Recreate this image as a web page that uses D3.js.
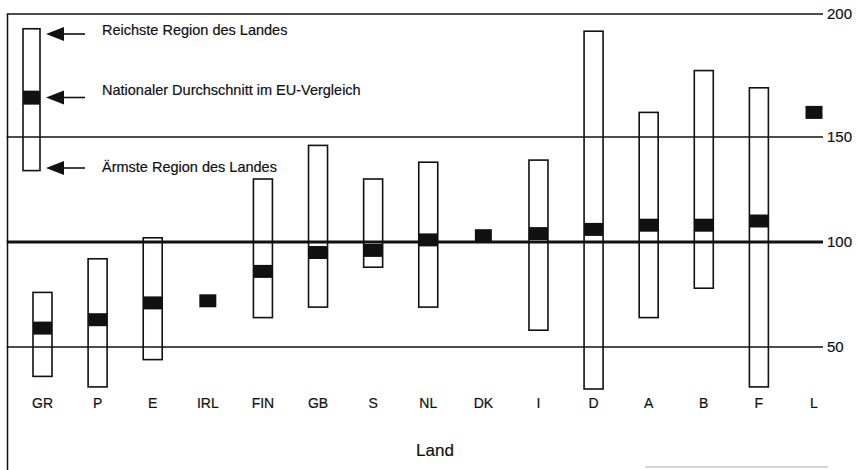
<!DOCTYPE html>
<meta charset="utf-8">
<style>
    body { margin: 0; background: #fff; }
    svg { font-family: "Liberation Sans", Arial, sans-serif; }
    .frame, .grid line { stroke: #111; stroke-width: 1.5; }
    .grid line.base { stroke-width: 3; }
    .box { fill: none; stroke: #111; stroke-width: 1.6; }
    .avg { fill: #111; }
    text { fill: #111; stroke: #111; stroke-width: 0.2; }
</style>
<body>
<script src="https://cdn.jsdelivr.net/npm/d3@7"></script>
<script>

    // Daten: Regionen je Land (Index EU = 100)
    var laender = ["GR", "P", "E", "IRL", "FIN", "GB", "S", "NL", "DK", "I", "D", "A", "B", "F", "L"];
    var reichste = [76, 92, 102, null, 130, 146, 130, 138, null, 139, 193, 160, 177, 170, null];
    var aermste = [36, 31, 44, null, 64, 69, 88, 69, null, 58, 30, 64, 78, 31, null];
    var durchschnitt = [59, 63, 71, 72, 86, 95, 96, 101, 103, 104, 106, 108, 108, 110, 160];

    var yTicks = [50, 100, 150, 200];
    var legendeWerte = {hoch: 194, mitte: 166, tief: 134};
    var legendeTexte = ["Reichste Region des Landes", "Nationaler Durchschnitt im EU-Vergleich", "Ärmste Region des Landes"];

    var width = 858, height = 470;
    var frameLeft = 7.5, frameTop = 14, gridRight = 823;

    var svg = d3.select("body").append("svg")
            .attr("width", width)
            .attr("height", height);

    // the scanned original is not quite linear above 150
    var y = d3.scaleLinear()
            .domain([50, 100, 150, 200])
            .range([347, 242, 137, frameTop]);

    var x = d3.scalePoint()
            .domain(laender)
            .range([42.5, 814]);

    var boxW = 19, markH = 13;

    // rahmen
    svg.append("line").attr("class", "frame")
            .attr("x1", frameLeft).attr("x2", frameLeft)
            .attr("y1", frameTop).attr("y2", height);

    svg.append("line")
            .attr("x1", 645).attr("x2", 828)
            .attr("y1", 467).attr("y2", 467)
            .attr("stroke", "#c8c8c8").attr("stroke-width", 1.5);

    // gitterlinien + rechte achse
    var grid = svg.append("g").attr("class", "grid");
    grid.selectAll("line").data(yTicks).enter().append("line")
            .attr("class", function(d) { return d === 100 ? "base" : null; })
            .attr("x1", frameLeft - 0.75).attr("x2", gridRight)
            .attr("y1", function(d) { return y(d); })
            .attr("y2", function(d) { return y(d); });

    grid.selectAll("text").data(yTicks).enter().append("text")
            .attr("x", gridRight + 4)
            .attr("y", function(d) { return y(d); })
            .attr("dy", "0.36em")
            .style("font-size", "15px")
            .text(function(d) { return d; });

    var rows = laender.map(function(l, i) {
        return {land: l, hi: reichste[i], lo: aermste[i], avg: durchschnitt[i]};
    });

    // boxen
    svg.append("g").selectAll("rect")
            .data(rows.filter(function(d) { return d.hi != null; }))
            .enter().append("rect")
            .attr("class", "box")
            .attr("x", function(d) { return x(d.land) - boxW / 2; })
            .attr("width", boxW)
            .attr("y", function(d) { return y(d.hi); })
            .attr("height", function(d) { return y(d.lo) - y(d.hi); });

    // durchschnitt
    svg.append("g").selectAll("rect")
            .data(rows)
            .enter().append("rect")
            .attr("class", "avg")
            .attr("x", function(d) { return x(d.land) - (d.hi != null ? boxW : 17) / 2; })
            .attr("width", function(d) { return d.hi != null ? boxW : 17; })
            .attr("y", function(d) { return y(d.avg) - markH / 2; })
            .attr("height", markH);

    // x-beschriftung
    svg.append("g").selectAll("text")
            .data(laender)
            .enter().append("text")
            .attr("x", function(d) { return x(d); })
            .attr("y", 408)
            .attr("text-anchor", "middle")
            .style("font-size", "14px")
            .text(function(d) { return d; });

    svg.append("text")
            .attr("x", 435)
            .attr("y", 456)
            .attr("text-anchor", "middle")
            .style("font-size", "17px")
            .text("Land");

    // legende
    var lx = 31.5;
    svg.append("rect").attr("class", "box")
            .attr("x", lx - 8.5).attr("width", 17)
            .attr("y", y(legendeWerte.hoch))
            .attr("height", y(legendeWerte.tief) - y(legendeWerte.hoch));
    svg.append("rect").attr("class", "avg")
            .attr("x", lx - 8.5).attr("width", 17)
            .attr("y", y(legendeWerte.mitte) - 7).attr("height", 14);

    var arrowY = [34, 97.5, 168];
    var textY = [34.5, 95, 172];
    var arrows = svg.append("g");
    arrowY.forEach(function(ay, i) {
        arrows.append("line")
                .attr("x1", 60).attr("x2", 85)
                .attr("y1", ay).attr("y2", ay)
                .attr("stroke", "#111").attr("stroke-width", 1.6);
        arrows.append("path")
                .attr("d", "M46," + ay + "L64," + (ay - 7) + "L64," + (ay + 7) + "Z")
                .attr("fill", "#111");
        arrows.append("text")
                .attr("x", 102).attr("y", textY[i])
                .style("font-size", "14.5px")
                .text(legendeTexte[i]);
    });

</script>
